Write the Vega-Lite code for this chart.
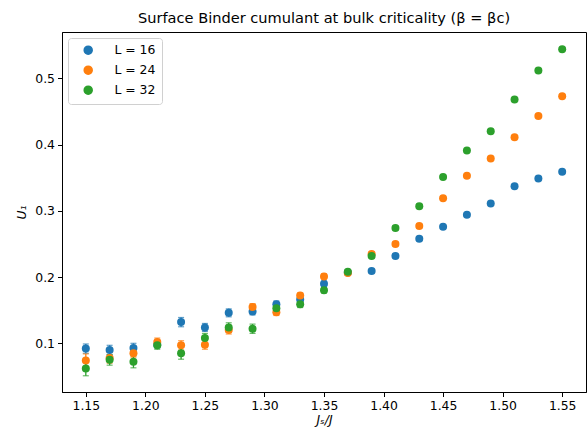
{
  "$schema": "https://vega.github.io/schema/vega-lite/v6.json",
  "width": 524,
  "height": 360,
  "autosize": {"type": "none"},
  "padding": {"left": 62, "top": 32, "right": 1, "bottom": 39},
  "background": "white",
  "config": {
    "font": "DejaVu Sans",
    "view": {"stroke": "black", "strokeWidth": 1},
    "axis": {
      "grid": false,
      "domainColor": "black",
      "tickColor": "black",
      "tickSize": 4.5,
      "labelFontSize": 12.4,
      "labelColor": "black",
      "labelPadding": 3,
      "titleFontSize": 12.4,
      "titleFontWeight": "normal",
      "titleColor": "black",
      "titleFontStyle": "italic"
    }
  },
  "title": {
    "text": "Surface Binder cumulant at bulk criticality (β = βc)",
    "fontSize": 14.6,
    "fontWeight": "normal",
    "color": "black",
    "anchor": "middle",
    "offset": 6
  },
  "data": {
    "values": [
      {"x": 1.15, "U": 0.092, "err": 0.007, "s": "L = 16"},
      {"x": 1.17, "U": 0.090, "err": 0.007, "s": "L = 16"},
      {"x": 1.19, "U": 0.093, "err": 0.007, "s": "L = 16"},
      {"x": 1.21, "U": 0.098, "err": 0.005, "s": "L = 16"},
      {"x": 1.23, "U": 0.132, "err": 0.007, "s": "L = 16"},
      {"x": 1.25, "U": 0.124, "err": 0.006, "s": "L = 16"},
      {"x": 1.27, "U": 0.146, "err": 0.006, "s": "L = 16"},
      {"x": 1.29, "U": 0.148, "err": 0.005, "s": "L = 16"},
      {"x": 1.31, "U": 0.159, "err": 0.005, "s": "L = 16"},
      {"x": 1.33, "U": 0.166, "err": 0.004, "s": "L = 16"},
      {"x": 1.35, "U": 0.190, "err": 0.004, "s": "L = 16"},
      {"x": 1.37, "U": 0.207, "err": 0.003, "s": "L = 16"},
      {"x": 1.39, "U": 0.209, "err": 0.003, "s": "L = 16"},
      {"x": 1.41, "U": 0.232, "err": 0.003, "s": "L = 16"},
      {"x": 1.43, "U": 0.258, "err": 0.003, "s": "L = 16"},
      {"x": 1.45, "U": 0.276, "err": 0.002, "s": "L = 16"},
      {"x": 1.47, "U": 0.294, "err": 0.002, "s": "L = 16"},
      {"x": 1.49, "U": 0.311, "err": 0.002, "s": "L = 16"},
      {"x": 1.51, "U": 0.337, "err": 0.002, "s": "L = 16"},
      {"x": 1.53, "U": 0.349, "err": 0.002, "s": "L = 16"},
      {"x": 1.55, "U": 0.359, "err": 0.002, "s": "L = 16"},
      {"x": 1.15, "U": 0.074, "err": 0.010, "s": "L = 24"},
      {"x": 1.17, "U": 0.078, "err": 0.008, "s": "L = 24"},
      {"x": 1.19, "U": 0.085, "err": 0.006, "s": "L = 24"},
      {"x": 1.21, "U": 0.102, "err": 0.006, "s": "L = 24"},
      {"x": 1.23, "U": 0.097, "err": 0.007, "s": "L = 24"},
      {"x": 1.25, "U": 0.098, "err": 0.007, "s": "L = 24"},
      {"x": 1.27, "U": 0.120, "err": 0.006, "s": "L = 24"},
      {"x": 1.29, "U": 0.155, "err": 0.005, "s": "L = 24"},
      {"x": 1.31, "U": 0.147, "err": 0.005, "s": "L = 24"},
      {"x": 1.33, "U": 0.172, "err": 0.004, "s": "L = 24"},
      {"x": 1.35, "U": 0.201, "err": 0.004, "s": "L = 24"},
      {"x": 1.37, "U": 0.206, "err": 0.003, "s": "L = 24"},
      {"x": 1.39, "U": 0.235, "err": 0.003, "s": "L = 24"},
      {"x": 1.41, "U": 0.250, "err": 0.003, "s": "L = 24"},
      {"x": 1.43, "U": 0.277, "err": 0.003, "s": "L = 24"},
      {"x": 1.45, "U": 0.319, "err": 0.002, "s": "L = 24"},
      {"x": 1.47, "U": 0.353, "err": 0.002, "s": "L = 24"},
      {"x": 1.49, "U": 0.379, "err": 0.002, "s": "L = 24"},
      {"x": 1.51, "U": 0.411, "err": 0.002, "s": "L = 24"},
      {"x": 1.53, "U": 0.443, "err": 0.002, "s": "L = 24"},
      {"x": 1.55, "U": 0.473, "err": 0.002, "s": "L = 24"},
      {"x": 1.15, "U": 0.062, "err": 0.011, "s": "L = 32"},
      {"x": 1.17, "U": 0.075, "err": 0.008, "s": "L = 32"},
      {"x": 1.19, "U": 0.072, "err": 0.009, "s": "L = 32"},
      {"x": 1.21, "U": 0.097, "err": 0.006, "s": "L = 32"},
      {"x": 1.23, "U": 0.085, "err": 0.009, "s": "L = 32"},
      {"x": 1.25, "U": 0.108, "err": 0.007, "s": "L = 32"},
      {"x": 1.27, "U": 0.124, "err": 0.007, "s": "L = 32"},
      {"x": 1.29, "U": 0.122, "err": 0.007, "s": "L = 32"},
      {"x": 1.31, "U": 0.153, "err": 0.005, "s": "L = 32"},
      {"x": 1.33, "U": 0.159, "err": 0.005, "s": "L = 32"},
      {"x": 1.35, "U": 0.180, "err": 0.004, "s": "L = 32"},
      {"x": 1.37, "U": 0.208, "err": 0.003, "s": "L = 32"},
      {"x": 1.39, "U": 0.232, "err": 0.003, "s": "L = 32"},
      {"x": 1.41, "U": 0.274, "err": 0.003, "s": "L = 32"},
      {"x": 1.43, "U": 0.307, "err": 0.003, "s": "L = 32"},
      {"x": 1.45, "U": 0.351, "err": 0.002, "s": "L = 32"},
      {"x": 1.47, "U": 0.391, "err": 0.002, "s": "L = 32"},
      {"x": 1.49, "U": 0.420, "err": 0.002, "s": "L = 32"},
      {"x": 1.51, "U": 0.468, "err": 0.002, "s": "L = 32"},
      {"x": 1.53, "U": 0.512, "err": 0.002, "s": "L = 32"},
      {"x": 1.55, "U": 0.544, "err": 0.002, "s": "L = 32"}
    ]
  },
  "encoding": {
    "x": {
      "field": "x",
      "type": "quantitative",
      "title": "Jₛ/J",
      "scale": {"domain": [1.13, 1.57], "nice": false, "zero": false},
      "axis": {"values": [1.15, 1.2, 1.25, 1.3, 1.35, 1.4, 1.45, 1.5, 1.55], "format": ".2f", "titlePadding": 2}
    },
    "y": {
      "field": "U",
      "type": "quantitative",
      "title": "U₁",
      "scale": {"domain": [0.0265, 0.57], "nice": false, "zero": false},
      "axis": {"values": [0.1, 0.2, 0.3, 0.4, 0.5], "format": ".1f", "titlePadding": 6}
    },
    "color": {
      "field": "s",
      "type": "nominal",
      "scale": {"domain": ["L = 16", "L = 24", "L = 32"], "range": ["#1f77b4", "#ff7f0e", "#2ca02c"]},
      "legend": {
        "title": null,
        "orient": "top-left",
        "offset": 6,
        "padding": 6,
        "symbolOffset": 8,
        "labelOffset": 20,
        "rowPadding": 5,
        "labelFontSize": 12.4,
        "labelColor": "black",
        "symbolType": "circle",
        "symbolSize": 64,
        "symbolOpacity": 1,
        "strokeColor": "#d0d0d0",
        "fillColor": "white",
        "cornerRadius": 3
      }
    }
  },
  "layer": [
    {
      "mark": {"type": "errorbar", "ticks": {"size": 6, "thickness": 1.2}, "thickness": 1.3},
      "encoding": {
        "y": {"field": "U", "type": "quantitative"},
        "yError": {"field": "err"}
      }
    },
    {
      "mark": {"type": "point", "filled": true, "size": 64, "opacity": 1}
    }
  ]
}
